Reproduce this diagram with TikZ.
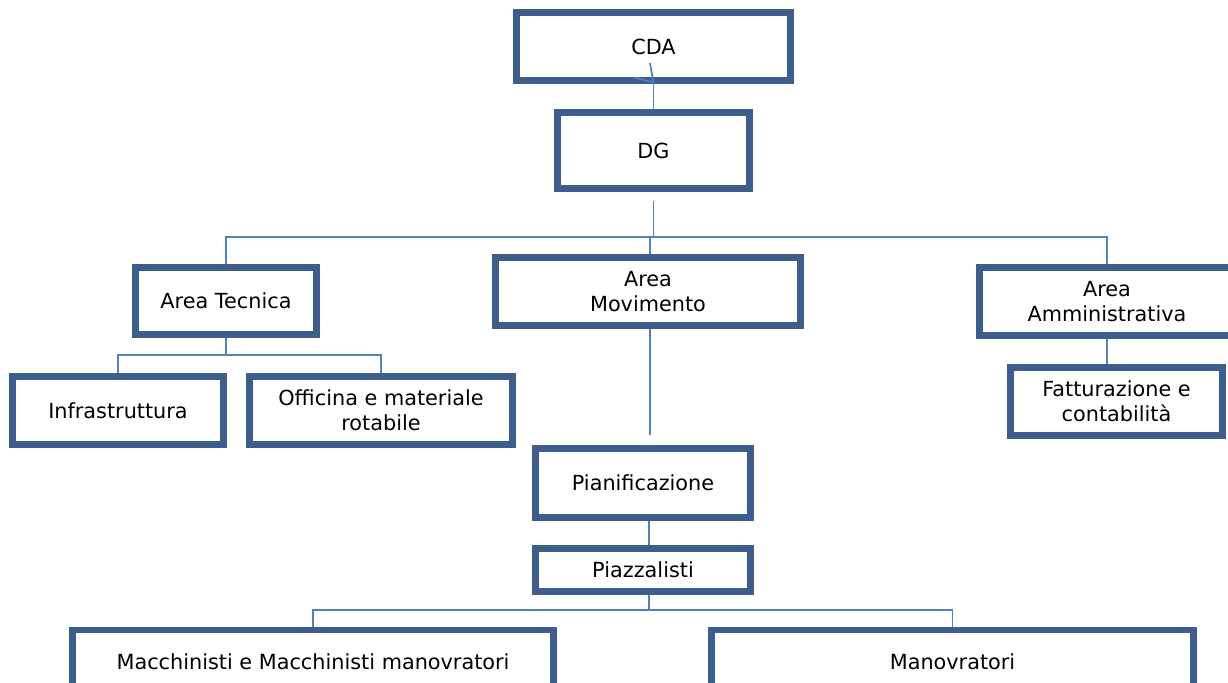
\documentclass[tikz,border=0pt]{standalone}
\usepackage{fontspec}
\setmainfont{DejaVu Sans}
\usetikzlibrary{arrows.meta}

\tikzset{
  box/.style={draw={rgb,255:red,61;green,94;blue,138}, line width=4.8pt, fill=white,
    inner sep=0pt, align=center, font=\fontsize{15.6}{19}\selectfont},
  link/.style={draw={rgb,255:red,79;green,129;blue,189}, line width=1.3pt}
}

\begin{document}
\begin{tikzpicture}[x=0.75pt,y=0.75pt,yscale=-1,xscale=1]
\useasboundingbox (0,0) rectangle (1228,682);

%Boxes
\node[box, minimum width=205.5pt, minimum height=51pt] (cda) at (653.5,46.5) {CDA};
\node[box, minimum width=144pt, minimum height=57pt] (dg) at (653.5,150.5) {DG};
\node[box, minimum width=135.75pt, minimum height=50.25pt] (atec) at (226,301) {Area Tecnica};
\node[box, minimum width=228.75pt, minimum height=51pt] (amov) at (648,291.5) {Area\\Movimento};
\node[box, minimum width=191.25pt, minimum height=51pt] (aamm) at (1107,301.5) {Area\\Amministrativa};
\node[box, minimum width=158.25pt, minimum height=51pt] (infra) at (118,410.5) {Infrastruttura};
\node[box, minimum width=197.25pt, minimum height=51pt] (offic) at (381,410.5) {Officina e materiale\\rotabile};
\node[box, minimum width=159pt, minimum height=51pt] (fatt) at (1116.5,401.5) {Fatturazione e\\contabilità};
\node[box, minimum width=161.25pt, minimum height=51.75pt] (pian) at (643,483) {Pianificazione};
\node[box, minimum width=161.25pt, minimum height=32.25pt] (piazz) at (643,570) {Piazzalisti};
\node[box, minimum width=360.75pt, minimum height=48pt] (macch) at (313,662) {Macchinisti e Macchinisti manovratori};
\node[box, minimum width=361.5pt, minimum height=48pt] (manov) at (952.5,662) {Manovratori};

%Bus points
\coordinate (busA) at (650,237);
\coordinate (busT) at (226,355);
\coordinate (busP) at (649,610);
\coordinate (cdatxt) at (650,63);

%Connectors
\draw[link] (dg.north) -- (cda.south);
\draw[link, -{Straight Barb[right, length=6pt, width=27pt, line width=1.3pt]}] (cdatxt) -- (cda.south);
\draw[link, shorten <=7pt] (dg.south) -- (dg.south |- busA) -| (atec.north);
\draw[link] (busA) -- (busA |- amov.north);
\draw[link] (busA) -| (aamm.north);
\draw[link] (atec.south) -- (atec.south |- busT) -| (infra.north);
\draw[link] (busT) -| (offic.north);
\draw[link] (aamm.south) -- (aamm.south |- fatt.north);
\draw[link, shorten >=8pt] (busA |- amov.south) -- (busA |- pian.north);
\draw[link] (busP |- pian.south) -- (busP |- piazz.north);
\draw[link] (busP |- piazz.south) -- (busP) -| (macch.north);
\draw[link] (busP) -| (manov.north);

\end{tikzpicture}
\end{document}
